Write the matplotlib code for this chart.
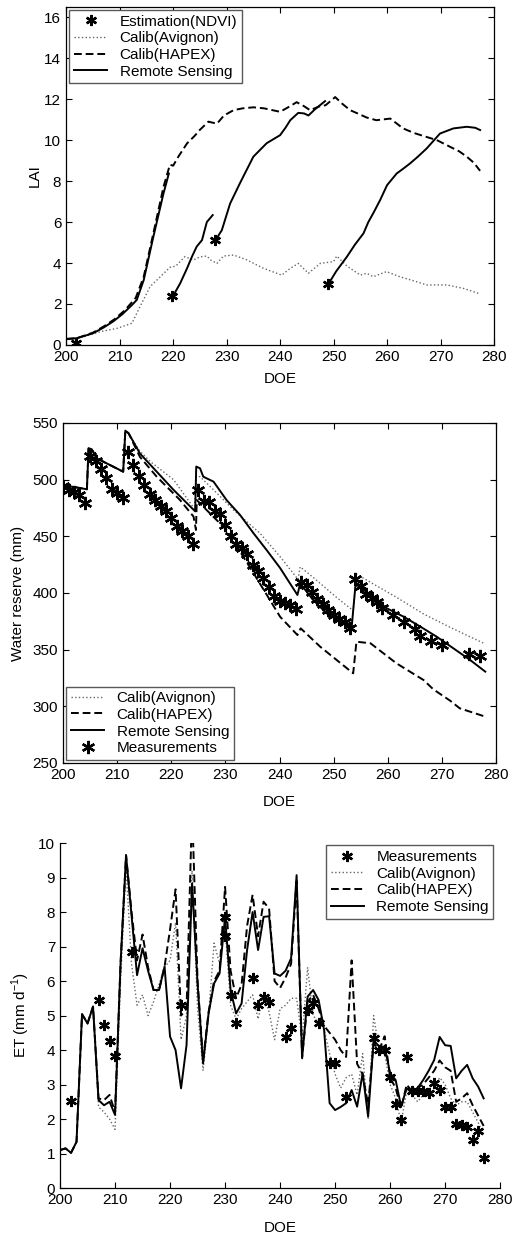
import matplotlib
matplotlib.use("Agg")
import matplotlib.pyplot as plt

plt.rcParams['font.family'] = ['Liberation Sans', 'DejaVu Sans']
plt.rcParams['font.size'] = 11
plt.rcParams['xtick.direction'] = 'in'
plt.rcParams['ytick.direction'] = 'in'

# ---------------- LAI panel data ----------------
hapex_lai_doy = [200, 202, 205, 207, 209, 211, 212, 213, 214.5, 216.3, 218.2, 219.4, 220, 221,
                 222.6, 224, 225, 226.6, 228.2, 229.5, 231.3, 233, 235, 237, 240, 241.5, 243.1,
                 244.5, 245.6, 247.5, 248.5, 250.3, 251.5, 253.1, 254.5, 256.2, 258, 260.6, 263,
                 265, 266.8, 269.3, 271.8, 273.5, 274.9, 276.2, 277.4]
hapex_lai = [0.3, 0.33, 0.6, 0.9, 1.25, 1.7, 2.0, 2.3, 3.33, 5.45, 7.72, 8.8, 8.75, 9.2,
             9.84, 10.2, 10.5, 10.9, 10.8, 11.2, 11.46, 11.55, 11.6, 11.55, 11.38, 11.6, 11.85,
             11.65, 11.46, 11.66, 11.7, 12.1, 11.8, 11.46, 11.3, 11.1, 10.97, 11.05, 10.57,
             10.35, 10.2, 10.0, 9.67, 9.45, 9.19, 8.9, 8.5]

avignon_lai_doy = [200, 203, 206.4, 209.5, 212.3, 213.8, 215.7, 217.6, 219.4, 220.5, 222.2, 223.8,
                   225, 226.3, 227, 228.2, 229.4, 231.3, 233.8, 236.9, 240.3, 241.9, 243.4, 245.3,
                   247.5, 250, 250.6, 252.5, 255, 256.2, 257.4, 259.9, 262.4, 265.5, 267.4, 271.2,
                   274.3, 277.1]
avignon_lai = [0.28, 0.38, 0.65, 0.81, 1.06, 1.87, 2.85, 3.33, 3.79, 3.85, 4.31, 4.15,
               4.3, 4.34, 4.15, 3.98, 4.34, 4.39, 4.15, 3.74, 3.41, 3.74, 3.98, 3.5,
               3.98, 4.07, 4.34, 3.85, 3.41, 3.5, 3.33, 3.58, 3.33, 3.09, 2.93, 2.93,
               2.76, 2.52]

rs1_doy = [200, 202, 205, 207, 208.8, 210.5, 212.3, 213.2, 214.5, 216.3, 218.2, 219.2]
rs1_lai = [0.28, 0.33, 0.57, 0.85, 1.15, 1.5, 1.95, 2.2, 3.17, 5.28, 7.4, 8.37]
rs2_doy = [220, 221.3, 222.6, 223.5, 224.4, 225.4, 226.3, 227.4]
rs2_lai = [2.4, 3.0, 3.74, 4.3, 4.8, 5.12, 6.0, 6.34]
rs3_doy = [228, 229.1, 230.65, 232.5, 235, 237.5, 240, 241, 241.9, 243.4, 244.5, 245.3, 246.5, 248.4]
rs3_lai = [5.15, 5.6, 6.9, 7.9, 9.19, 9.85, 10.24, 10.6, 10.97, 11.33, 11.3, 11.2, 11.5, 11.9]
rs4_doy = [249, 250.5, 252.5, 254, 255.6, 256.5, 257.4, 258.7, 260, 261.8, 263, 264.3, 265.8,
           267.4, 269.9, 272.4, 274.9, 276.5, 277.4]
rs4_lai = [2.96, 3.6, 4.31, 4.9, 5.45, 6.0, 6.42, 7.07, 7.8, 8.37, 8.6, 8.86, 9.2,
           9.59, 10.32, 10.57, 10.65, 10.6, 10.49]

ndvi_doy = [201.8, 219.8, 227.9, 248.9]
ndvi_lai = [0.1, 2.38, 5.12, 2.96]

# ---------------- Water reserve panel data ----------------
rs_wr_doy = [200, 202, 204.4, 204.7, 205.3, 206.2, 211.1, 211.5, 212.1, 214.2, 217.3, 220.4, 224.4,
             224.6, 225.3, 225.9, 227.8, 230.2, 232.7, 235.2, 237.6, 240.1, 243.3, 243.8, 246.2,
             248.7, 253.3, 254.0, 254.3, 256.8, 259.8, 262.9, 266, 269, 272.1, 275.2, 278]
rs_wr = [495, 493.5, 491.5, 527.6, 526.8, 518.8, 507, 543.2, 540.9, 523, 507, 491, 472,
         511.5, 510, 502.6, 498.2, 482, 468.8, 452.6, 437.9, 422, 398.2, 408.5, 393.8,
         382, 368.8, 405.6, 407, 398.2, 386.5, 379.1, 370.3, 361.5, 351.2, 340.9, 330.6]

avignon_wr_doy = [200, 202, 204.4, 204.7, 205.3, 206.2, 211.1, 211.5, 212.1, 214.2, 216.1, 220.4,
                  224.3, 224.6, 225.3, 227.8, 231.5, 236.4, 240.1, 243.4, 243.8, 246.2, 250.5,
                  253.6, 254.2, 256.8, 261.6, 266.6, 271.5, 278]
avignon_wr = [495, 493.5, 491.5, 527.6, 526.8, 518.8, 507, 543.2, 540.9, 525, 516, 500,
              474, 503, 502.6, 491, 473.2, 452.6, 432, 412, 423, 413.8, 396.2,
              384.4, 416.8, 409.4, 396.2, 381.5, 369.7, 355]

hapex_wr_doy = [200, 202, 204.4, 204.7, 205.3, 206.2, 211.1, 211.5, 212.1, 214.2, 217.3, 221.6,
                224.1, 224.55, 224.7, 225.3, 230.2, 235.2, 240.1, 243.3, 243.9, 247.5, 253.6,
                254.2, 256.8, 261.6, 266.6, 268.4, 271.5, 273.3, 278]
hapex_wr = [495, 493.5, 491.5, 527.6, 526.8, 518.8, 507, 543.2, 540.9, 520, 502.6, 482,
            467.4, 455.6, 482, 479, 455.6, 417.4, 379, 362.9, 368.8, 352.6, 329.1,
            357, 355.6, 337.9, 323.2, 315, 305, 298.2, 290.9]

meas_wr_doy = [200, 201, 202, 203, 204,
               205, 206, 207, 208, 209, 210, 211,
               212, 213, 214, 215, 216, 217, 218, 219, 220, 221, 222, 223, 224,
               225, 226, 227, 228, 229, 230, 231, 232, 233, 234, 235, 236, 237, 238, 239, 240,
               241, 242, 243,
               244, 245, 246, 247, 248, 249, 250, 251, 252, 253,
               254, 255, 256, 257, 258, 259, 261, 263, 265, 266, 268, 270, 275, 277]
meas_wr = [494, 491, 489, 486, 479,
           521, 516, 509, 501, 492, 488, 484,
           524, 513, 503, 495, 487, 482, 477, 472, 466, 459, 455, 450, 443,
           491, 481, 480, 472, 470, 460, 450, 443, 440, 434, 425, 419, 413, 405, 397, 393,
           391, 389, 386,
           410, 407, 401, 395, 390, 385, 381, 377, 374, 369,
           412, 406, 399, 396, 392, 387, 381, 374, 368, 362, 358, 354, 346, 344]

# ---------------- ET panel data ----------------
et_doy = list(range(200, 278))
et_rs = [1.1, 1.15, 1.02, 1.34, 5.04, 4.77, 5.26, 2.55, 2.4, 2.5,
         2.12, 6.5, 9.65, 7.9, 6.17, 6.95, 6.3, 5.74, 5.74, 6.42,
         4.39, 4.0, 2.89, 4.15, 8.83, 5.93, 3.61, 5.06, 5.93, 6.22,
         7.86, 5.74, 5.06, 5.35, 6.9, 8.0, 6.9, 7.86, 7.88, 6.22,
         6.15, 6.3, 6.66, 9.07, 3.76, 5.55, 5.74, 5.45, 4.58, 2.46,
         2.26, 2.35, 2.46, 2.84, 2.36, 3.33, 2.07, 4.29, 4.1, 4.1,
         3.33, 3.13, 2.36, 2.9, 2.74, 2.9, 3.13, 3.4, 3.71, 4.38,
         4.14, 4.12, 3.18, 3.4, 3.57, 3.18, 2.94, 2.6]
et_hapex = [1.1, 1.15, 1.02, 1.34, 5.04, 4.77, 5.26, 2.6, 2.55, 2.7,
            2.2, 6.5, 9.65, 8.0, 6.6, 7.35, 6.4, 5.74, 5.74, 6.42,
            7.5, 8.66, 5.0, 5.2, 11.0, 6.0, 3.7, 5.1, 6.0, 6.3,
            8.73, 6.3, 5.5, 5.9, 7.6, 8.5, 7.3, 8.3, 8.1, 6.0,
            5.8, 6.1, 6.5, 8.9, 3.8, 5.4, 5.6, 5.2, 4.7, 4.5,
            4.3, 4.0, 3.8, 6.6, 3.6, 3.3, 2.4, 4.2, 4.0, 4.4,
            3.2, 2.9, 2.3, 3.0, 2.8, 2.9, 3.0, 3.2, 3.4, 3.7,
            3.5, 3.4, 2.5, 2.6, 2.75, 2.4, 2.1, 1.8]
et_avignon = [1.1, 1.15, 1.02, 1.34, 5.04, 4.77, 5.26, 2.35, 2.2, 2.0,
              1.7, 6.0, 9.3, 6.5, 5.3, 5.6, 5.0, 5.4, 5.9, 6.4,
              6.6, 7.7, 4.3, 5.0, 9.2, 5.2, 3.4, 5.0, 7.1, 6.5,
              7.6, 5.3, 4.9, 5.2, 5.4, 5.6, 4.9, 5.6, 5.1, 4.3,
              5.2, 5.3, 5.5, 5.5, 4.3, 6.4, 5.0, 4.8, 4.6, 3.9,
              3.3, 2.9, 3.2, 3.3, 2.7, 3.9, 2.0, 5.0, 4.0, 3.9,
              3.0, 2.6, 1.9, 2.8, 2.7, 2.5, 2.7, 2.8, 2.9, 3.2,
              3.0, 2.6, 2.4, 2.5, 2.5, 2.2, 1.9, 1.55]

meas_et_doy = [202, 207, 208, 209, 210, 213, 222, 230, 230, 231, 232, 235, 236, 237, 238,
               241, 242, 245, 246, 247, 249, 250, 252, 257, 258, 259, 260, 261, 262, 263,
               264, 265, 266, 267, 268, 269, 270, 271, 272, 273, 274, 275, 276, 277]
meas_et = [2.53, 5.45, 4.72, 4.25, 3.82, 6.85, 5.3, 7.85, 7.3, 5.6, 4.77, 6.08, 5.3, 5.55, 5.4,
           4.39, 4.63, 5.16, 5.35, 4.77, 3.63, 3.63, 2.64, 4.34, 4.0, 4.0, 3.22, 2.45, 1.97, 3.8,
           2.8, 2.8, 2.8, 2.75, 3.05, 2.85, 2.36, 2.36, 1.87, 1.83, 1.78, 1.4, 1.66, 0.86]

star = (6, 2, 0)
dot_kw = dict(color='0.4', linestyle=':', linewidth=1.0)
dash_kw = dict(color='k', linestyle=(0, (4, 2)), linewidth=1.4)
solid_kw = dict(color='k', linestyle='-', linewidth=1.4)
star_kw = dict(color='k', linestyle='none', marker=star, markersize=8, markeredgewidth=1.7)
leg_kw = dict(fancybox=False, edgecolor='0.35', framealpha=1, handletextpad=0.8,
              labelspacing=0.18, borderpad=0.3, handlelength=2.2)

fig = plt.figure(figsize=(5.13, 12.36), dpi=100)

# ---- LAI ----
ax1 = fig.add_axes([0.129, 0.7209, 0.834, 0.2735])
ax1.plot(ndvi_doy, ndvi_lai, label='Estimation(NDVI)', zorder=5, **star_kw)
ax1.plot(avignon_lai_doy, avignon_lai, label='Calib(Avignon)', **dot_kw)
ax1.plot(hapex_lai_doy, hapex_lai, label='Calib(HAPEX)', **dash_kw)
ax1.plot(rs1_doy, rs1_lai, label='Remote Sensing', **solid_kw)
ax1.plot(rs2_doy, rs2_lai, **solid_kw)
ax1.plot(rs3_doy, rs3_lai, **solid_kw)
ax1.plot(rs4_doy, rs4_lai, **solid_kw)
ax1.set_xlim(200, 280)
ax1.set_ylim(0, 16.5)
ax1.set_yticks(range(0, 17, 2))
ax1.set_ylabel('LAI')
ax1.set_xlabel('DOE')
ax1.yaxis.set_label_coords(-0.056, 0.5)
ax1.xaxis.set_label_coords(0.5, -0.08)
ax1.legend(loc='upper left', borderaxespad=0.2, **leg_kw)

# ---- Water reserve ----
ax2 = fig.add_axes([0.123, 0.3827, 0.844, 0.2751])
ax2.plot(avignon_wr_doy, avignon_wr, label='Calib(Avignon)', **dot_kw)
ax2.plot(hapex_wr_doy, hapex_wr, label='Calib(HAPEX)', **dash_kw)
ax2.plot(rs_wr_doy, rs_wr, label='Remote Sensing', **solid_kw)
ax2.plot(meas_wr_doy, meas_wr, label='Measurements', zorder=5,
         **{**star_kw, 'markersize': 9.5})
ax2.set_xlim(200, 280)
ax2.set_ylim(250, 550)
ax2.set_ylabel('Water reserve (mm)')
ax2.set_xlabel('DOE')
ax2.yaxis.set_label_coords(-0.088, 0.5)
ax2.xaxis.set_label_coords(0.5, -0.094)
ax2.legend(loc='lower left', borderaxespad=0.2, **leg_kw)

# ---- ET ----
ax3 = fig.add_axes([0.117, 0.0388, 0.858, 0.2791])
ax3.plot(meas_et_doy, meas_et, label='Measurements', zorder=5, **star_kw)
ax3.plot(et_doy, et_avignon, label='Calib(Avignon)', **dot_kw)
ax3.plot(et_doy, et_hapex, label='Calib(HAPEX)', **dash_kw)
ax3.plot(et_doy, et_rs, label='Remote Sensing', **solid_kw)
ax3.set_xlim(200, 280)
ax3.set_ylim(0, 10)
ax3.set_yticks(range(0, 11))
ax3.set_ylabel('ET (mm d$^{\\mathregular{-1}}$)')
ax3.set_xlabel('DOE')
ax3.yaxis.set_label_coords(-0.064, 0.5)
ax3.xaxis.set_label_coords(0.5, -0.096)
ax3.spines['top'].set_visible(False)
ax3.spines['right'].set_visible(False)
ax3.legend(loc='upper right', bbox_to_anchor=(0.99, 1.0), borderaxespad=0.15, **leg_kw)

for ax in (ax1, ax2):
    ax.tick_params(top=True, right=True, length=4, width=0.8)
    for s in ax.spines.values():
        s.set_linewidth(0.9)
ax3.tick_params(length=4, width=0.8)
for s in ('left', 'bottom'):
    ax3.spines[s].set_linewidth(0.9)

fig.savefig('out.png', dpi=100)
